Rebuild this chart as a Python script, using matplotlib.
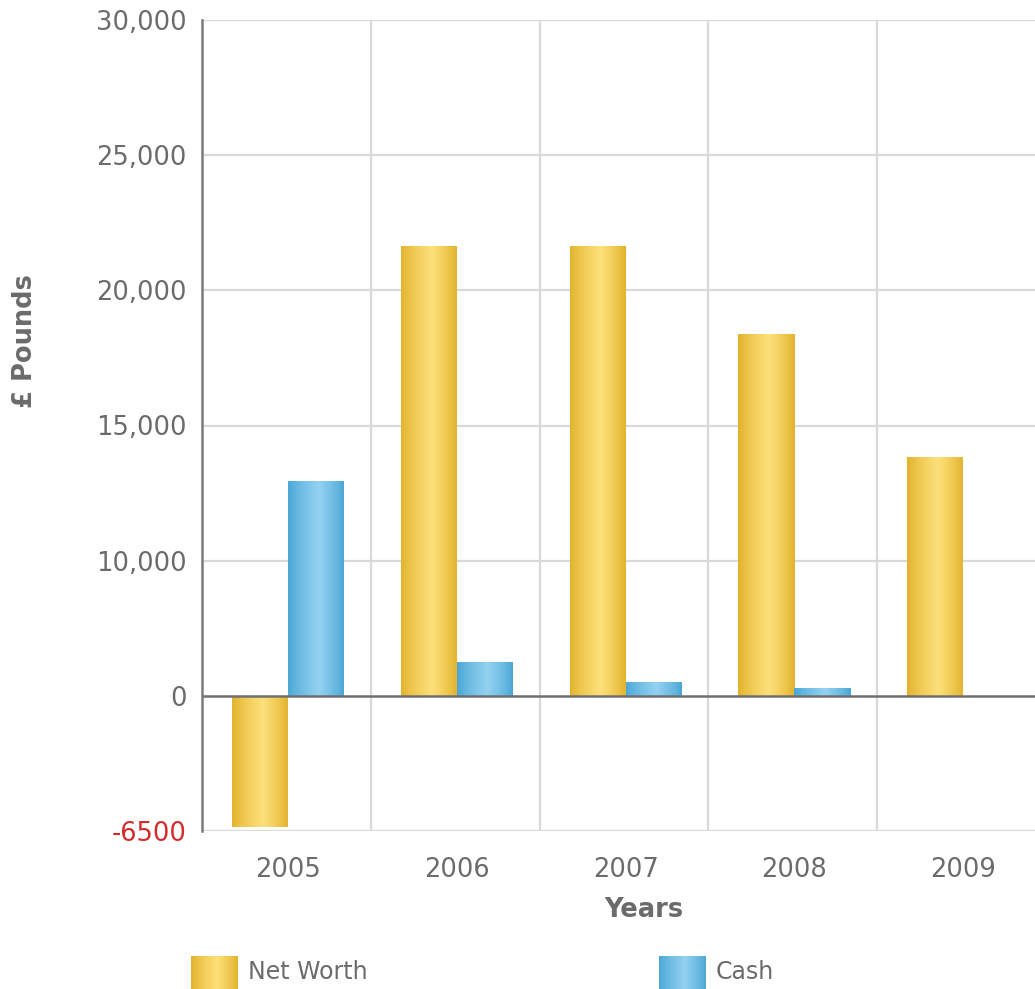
import numpy as np
import matplotlib
matplotlib.use("Agg")
import matplotlib.pyplot as plt
from matplotlib.patches import Rectangle
from matplotlib.colors import to_rgb

years = ["2005", "2006", "2007", "2008", "2009"]
net_worth = [-6300, 21650, 21650, 18400, 13830]
cash = [12950, 2500, 1050, 600, 0]

# the axis in the source is not linear: labels sit on evenly spaced gridlines
tick_vals = [-6500, 0, 10000, 15000, 20000, 25000, 30000]
tick_text = ["-6500", "0", "10,000", "15,000", "20,000", "25,000", "30,000"]
tick_pos = np.arange(len(tick_vals)) - 1.0

gold = ("#e1b12a", "#fde07a")
blue = ("#47a5d4", "#93d1f1")
grey = "#6b6b6b"
light = "#d9d9d9"

plt.rcParams['font.family'] = ['DejaVu Sans']


def fwd(v):
    return np.interp(v, tick_vals, tick_pos)


def inv(p):
    return np.interp(p, tick_pos, tick_vals)


def shade(colors, t, peak=0.55):
    # light band a little right of centre, darker at both edges
    if t < peak:
        f = t / peak
    else:
        f = (1 - t) / (1 - peak)
    f = f ** 0.8
    a = np.array(to_rgb(colors[0]))
    b = np.array(to_rgb(colors[1]))
    return a + (b - a) * f


fig = plt.figure(figsize=(10.35, 9.89), dpi=100)
ax = fig.add_axes([202 / 1035, 1 - 831 / 989, 844 / 1035, 811 / 989])
ax.set_yscale('function', functions=(fwd, inv))
ax.set_ylim(-6500, 30000)
ax.set_xlim(-0.5, len(years) - 0.5)

x = np.arange(len(years))
w = 0.332
n = 40
sw = w / n
shift = 0.01
for vals, cols, off in [(net_worth, gold, -w / 2), (cash, blue, w / 2)]:
    for i in range(n):
        t = (i + 0.5) / n
        ax.bar(x + shift + off - w / 2 + (i + 0.5) * sw, vals, width=sw * 1.02,
               color=shade(cols, t), linewidth=0, zorder=2)

for v in tick_vals:
    if v != 0:
        ax.axhline(v, color=light, lw=1.6, zorder=1)
for b in np.arange(len(years) - 1) + 0.5:
    ax.axvline(b, color=light, lw=1.6, zorder=1)
ax.axhline(0, color="#707070", lw=1.8, zorder=3)

for s in ["top", "right", "bottom"]:
    ax.spines[s].set_visible(False)
ax.spines["left"].set_color("#7a7a7a")
ax.spines["left"].set_linewidth(1.8)
ax.spines["left"].set_zorder(4)

ax.set_yticks(tick_vals)
ax.set_yticklabels(tick_text)
ax.yaxis.set_minor_locator(matplotlib.ticker.NullLocator())
ax.set_xticks(x + shift)
ax.set_xticklabels(years)
ax.tick_params(axis="y", length=0, pad=11, labelsize=18.5, labelcolor=grey)
ax.tick_params(axis="x", length=0, pad=19, labelsize=18.5, labelcolor=grey)
ax.get_yticklabels()[0].set_color("#d42a2a")

fig.text(644 / 1035, 1 - 910 / 989, "Years", ha="center", va="center",
         fontsize=18.5, fontweight="bold", color=grey)
fig.text(25 / 1035, 1 - 341 / 989, "£ Pounds", ha="center", va="center",
         rotation=90, fontsize=18.5, fontweight="bold", color=grey)

# legend swatches along the bottom
for label, cols, x0 in [("Net Worth", gold, 191), ("Cash", blue, 659)]:
    m = 24
    sww = 47 / m
    for i in range(m):
        fig.patches.append(Rectangle(((x0 + i * sww) / 1035, 0),
                                     sww * 1.05 / 1035, 33 / 989,
                                     transform=fig.transFigure,
                                     color=shade(cols, (i + 0.5) / m),
                                     linewidth=0))
    fig.text((x0 + 57) / 1035, 1 - 972 / 989, label, ha="left", va="center",
             fontsize=17, color=grey)

fig.savefig("out.png", dpi=100)
